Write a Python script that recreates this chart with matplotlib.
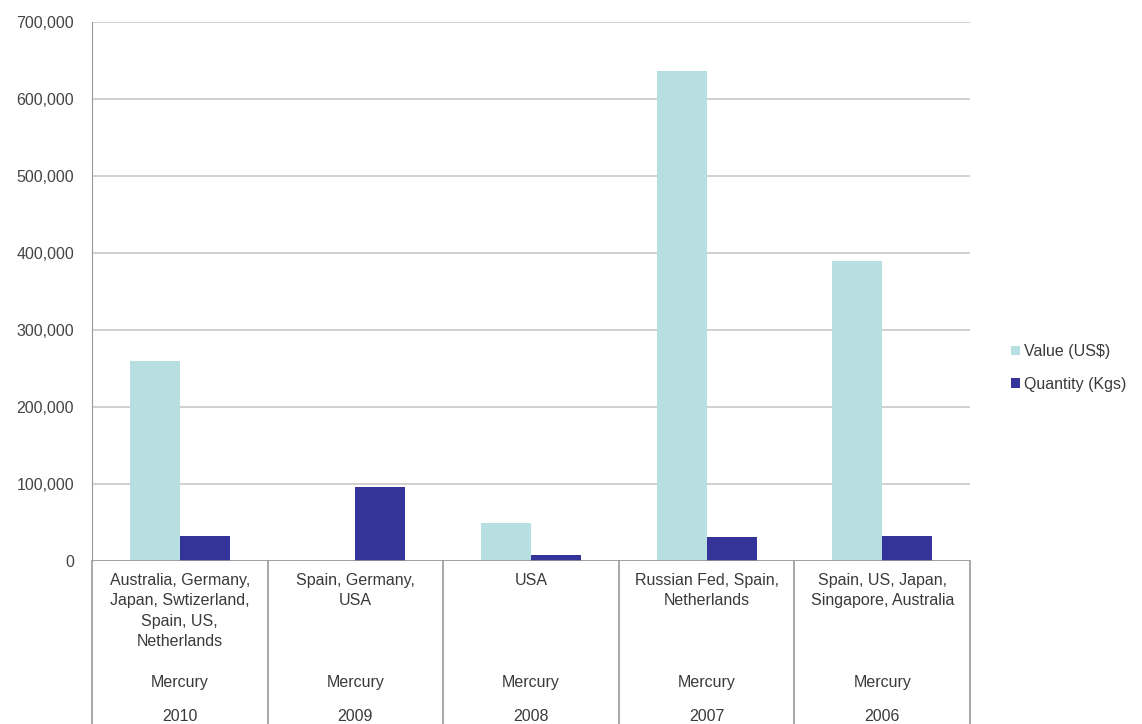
import matplotlib.pyplot as plt
import numpy as np

plt.rcParams['font.family'] = ['Liberation Sans', 'DejaVu Sans']

countries = [
    "Australia, Germany,\nJapan, Swtizerland,\nSpain, US,\nNetherlands",
    "Spain, Germany,\nUSA",
    "USA",
    "Russian Fed, Spain,\nNetherlands",
    "Spain, US, Japan,\nSingapore, Australia",
]
products = ["Mercury", "Mercury", "Mercury", "Mercury", "Mercury"]
years = ["2010", "2009", "2008", "2007", "2006"]
value_usd = [260000, 0, 50000, 636000, 390000]
quantity_kgs = [32000, 96000, 8000, 31000, 32000]


def fmt_thousands(v, pos):
    return "{:,.0f}".format(v)


def show_graph():
    fig = plt.figure(figsize=(11.42, 7.24), dpi=100)
    ax = fig.add_axes([92 / 1142, 163 / 724, 878 / 1142, 539 / 724])

    x = np.arange(len(years))
    w = 0.285
    ax.bar(x - w / 2, value_usd, w, color="#b7dfe2", label="Value (US$)", zorder=3)
    ax.bar(x + w / 2, quantity_kgs, w, color="#333399", label="Quantity (Kgs)", zorder=3)

    ax.set_xlim(-0.5, len(years) - 0.5)
    ax.set_ylim(0, 700000)
    ax.set_yticks(np.arange(0, 700001, 100000))
    ax.yaxis.set_major_formatter(plt.FuncFormatter(fmt_thousands))
    ax.tick_params(axis="y", length=0, pad=13, labelsize=11.5, labelcolor="#444444")
    ax.set_xticks([])
    ax.grid(axis="y", color="#c8c8c8", linewidth=1.2, zorder=0)
    for s in ["top", "right", "bottom"]:
        ax.spines[s].set_visible(False)
    ax.spines["left"].set_color("#999999")
    ax.axhline(0, color="#999999", linewidth=1.2, zorder=4)

    # multi-level category axis
    trans = ax.get_xaxis_transform()
    bottom = -170 / 539
    for b in np.arange(len(years) + 1) - 0.5:
        ax.plot([b, b], [0, bottom], transform=trans, color="#999999",
                linewidth=1.2, clip_on=False)
    for i in range(len(years)):
        ax.text(x[i], -0.022, countries[i], transform=trans, ha="center", va="top",
                fontsize=11.5, color="#3a3a3a", linespacing=1.45)
        ax.text(x[i], -0.2245, products[i], transform=trans, ha="center", va="center",
                fontsize=11.5, color="#3a3a3a")
        ax.text(x[i], -0.2876, years[i], transform=trans, ha="center", va="center",
                fontsize=11.5, color="#3a3a3a")

    fig.legend(loc="center left", bbox_to_anchor=(997 / 1142, 1 - 368 / 724),
               frameon=False, fontsize=11.5, handlelength=0.55, handleheight=0.55,
               handletextpad=0.25, labelspacing=1.1, labelcolor="#3a3a3a")

    fig.savefig("out.png", dpi=100)


def main():
    show_graph()


if __name__ == "__main__":
    main()
